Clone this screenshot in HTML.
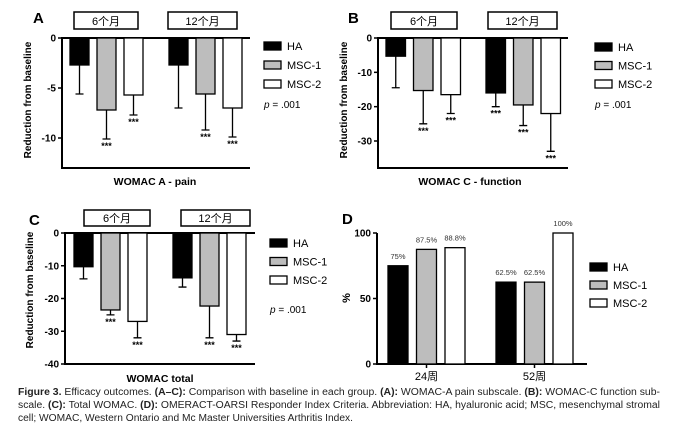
<!DOCTYPE html>
<html><head><meta charset="utf-8">
<style>
html,body{margin:0;padding:0;background:#fff;}
svg{display:block;font-family:"Liberation Sans","Noto Sans CJK SC",sans-serif;}
</style></head>
<body>
<svg id="fig" width="678" height="428" viewBox="0 0 678 428" xmlns="http://www.w3.org/2000/svg">
<rect width="678" height="428" fill="#fff"/>
<g id="root"></g>
<g font-size="10" fill="#222" font-family="'Liberation Sans Narrow','Liberation Sans',sans-serif">
<text x="18" y="395" textLength="642" lengthAdjust="spacingAndGlyphs"><tspan font-weight="bold">Figure 3.</tspan>    Efficacy outcomes. <tspan font-weight="bold">(A–C):</tspan> Comparison with baseline in each group. <tspan font-weight="bold">(A):</tspan> WOMAC-A pain subscale. <tspan font-weight="bold">(B):</tspan> WOMAC-C function sub-</text>
<text x="18" y="408" textLength="642" lengthAdjust="spacingAndGlyphs">scale. <tspan font-weight="bold">(C):</tspan> Total WOMAC. <tspan font-weight="bold">(D):</tspan> OMERACT-OARSI Responder Index Criteria. Abbreviation: HA, hyaluronic acid; MSC, mesenchymal stromal</text>
<text x="18" y="421" textLength="335" lengthAdjust="spacingAndGlyphs">cell; WOMAC, Western Ontario and Mc Master Universities Arthritis Index.</text>
</g>
</svg>
<script>
// Panel A: WOMAC A - pain
const aGroups = ["6个月", "12个月"];
const aMeans = [[-2.7, -7.2, -5.7], [-2.7, -5.6, -7.0]];
const aErrs  = [[-5.6, -10.1, -7.7], [-7.0, -9.2, -9.9]];
const aStars = [[false, true, true], [false, true, true]];
const aTicks = [0, -5, -10];
// Panel B: WOMAC C - function
const bGroups = ["6个月", "12个月"];
const bMeans = [[-5.3, -15.3, -16.5], [-16.0, -19.5, -22.0]];
const bErrs  = [[-14.5, -25.0, -22.0], [-20.0, -25.5, -33.0]];
const bStars = [[false, true, true], [true, true, true]];
const bTicks = [0, -10, -20, -30];
// Panel C: WOMAC total
const cGroups = ["6个月", "12个月"];
const cMeans = [[-10.3, -23.5, -27.0], [-13.7, -22.3, -31.0]];
const cErrs  = [[-14.0, -25.0, -32.0], [-16.5, -32.0, -33.0]];
const cStars = [[false, true, true], [false, true, true]];
const cTicks = [0, -10, -20, -30, -40];
// Panel D: responder %
const dCats = ["24周", "52周"];
const dValues = [[75, 87.5, 88.8], [62.5, 62.5, 100]];
const dLabels = [["75%", "87.5%", "88.8%"], ["62.5%", "62.5%", "100%"]];
const dTicks = [0, 50, 100];
const seriesNames = ["HA", "MSC-1", "MSC-2"];

const NS = "http://www.w3.org/2000/svg";
const root = document.getElementById("root");
const fills = ["#000", "#bdbdbd", "#fff"];
function mk(tag, attrs, parent, text) {
  const e = document.createElementNS(NS, tag);
  for (const k in attrs) e.setAttribute(k, attrs[k]);
  if (text !== undefined) e.textContent = text;
  (parent || root).appendChild(e);
  return e;
}

function panel(cfg) {
  const g = mk("g", {});
  
  
  const y = v => cfg.y0 + (v - cfg.vTop) * (cfg.yBot - cfg.y0) / (cfg.vBot - cfg.vTop);
  // letter
  const L = mk("text", {x: cfg.letter[0], y: cfg.letter[1], "font-size": 15, "font-weight": "bold"}, g, cfg.letterText);
  
  
  // axes
  const ax = mk("path", {d: `M${cfg.ax} ${cfg.yTopAxis} V${cfg.yAxisBottom} H${cfg.axR}`, stroke: "#000", "stroke-width": 2, fill: "none"}, g);
  
  
  if (cfg.zeroLine) {
    const zl = mk("line", {x1: cfg.ax, x2: cfg.axR, y1: y(0), y2: y(0), stroke: "#000", "stroke-width": 2}, g);
    
    
  }
  cfg.ticks.forEach(t => {
    const tk = mk("line", {x1: cfg.ax - 4, x2: cfg.ax, y1: y(t), y2: y(t), stroke: "#000", "stroke-width": 1.5}, g);
    
    
    const tl = mk("text", {x: cfg.ax - 6, y: y(t) + 3.5, "font-size": 10, "font-weight": "bold", "text-anchor": "end"}, g, String(t));
    
    
  });
  // y title
  const yt = mk("text", {x: 0, y: 0, "font-size": cfg.yTitleSize || 10, "font-weight": "bold", "text-anchor": "middle",
    transform: `translate(${cfg.yTitle[0]},${cfg.yTitle[1]}) rotate(-90)`}, g, cfg.yTitleText);
  
  
  // bars
  cfg.means.forEach((grp, gi) => {
    grp.forEach((v, si) => {
      const x0 = cfg.groupX[gi] + si * cfg.step;
      const top = Math.min(y(0), y(v)), h = Math.abs(y(v) - y(0));
      const b = mk("rect", {x: x0, y: top, width: cfg.bw, height: h, fill: fills[si], stroke: "#000", "stroke-width": 1.3}, g);
      
      
      const cx = x0 + cfg.bw / 2;
      if (cfg.errs) {
        const e = cfg.errs[gi][si];
        const eb = mk("path", {d: `M${cx} ${y(v)} V${y(e)} M${cx - 4} ${y(e)} H${cx + 4}`, stroke: "#000", "stroke-width": 1.3, fill: "none"}, g);
        
        
        if (cfg.stars[gi][si]) {
          const st = mk("text", {x: cx, y: y(e) + 10, "font-size": 9, "font-weight": "bold", "text-anchor": "middle"}, g, "***");
          
          
        }
      }
      if (cfg.labels) {
        const vl = mk("text", {x: cx, y: y(v) - 7, "font-size": 7.5, "text-anchor": "middle", fill: "#333"}, g, cfg.labels[gi][si]);
        
        
      }
    });
  });
  // group headers / category labels
  if (cfg.headers) {
    cfg.headers.forEach((h, i) => {
      const hb = cfg.headerBoxes[i];
      const r = mk("rect", {x: hb[0], y: hb[1], width: hb[2], height: hb[3], fill: "#fff", stroke: "#000", "stroke-width": 1.5}, g);
      
      
      const t = mk("text", {x: hb[0] + hb[2] / 2, y: hb[1] + hb[3] - 4, "font-size": 11, "text-anchor": "middle"}, g, h);
      
      
    });
  }
  if (cfg.cats) {
    cfg.cats.forEach((c, i) => {
      const cx = cfg.groupX[i] + cfg.step + cfg.bw / 2;
      const tk = mk("line", {x1: cx, x2: cx, y1: cfg.yAxisBottom, y2: cfg.yAxisBottom + 4, stroke: "#000", "stroke-width": 1.5}, g);
      
      
      const t = mk("text", {x: cx, y: cfg.yAxisBottom + 16, "font-size": 11, "text-anchor": "middle"}, g, c);
      
      
    });
  }
  if (cfg.xTitleText) {
    const xt = mk("text", {x: cfg.xTitle[0], y: cfg.xTitle[1], "font-size": 10.5, "font-weight": "bold", "text-anchor": "middle"}, g, cfg.xTitleText);
    
    
  }
  // legend
  seriesNames.forEach((s, i) => {
    const ly = cfg.legend[1] + i * cfg.legendStep;
    const lb = mk("rect", {x: cfg.legend[0], y: ly - 4, width: 17, height: 8, fill: fills[i], stroke: "#000", "stroke-width": 1.3}, g);
    
    
    const lt = mk("text", {x: cfg.legend[0] + 23, y: ly + 4, "font-size": 11}, g, s);
    
    
  });
  if (cfg.pval) {
    const p = mk("text", {x: cfg.pval[0], y: cfg.pval[1], "font-size": 10}, g);
    
    
    mk("tspan", {"font-style": "italic"}, p, "p");
    mk("tspan", {}, p, " = .001");
  }
}

panel({name: "panel-a", letterText: "A", letter: [33, 23], ax: 62, axR: 250, yTopAxis: 37, yAxisBottom: 168,
  y0: 38, vTop: 0, yBot: 138, vBot: -10, zeroLine: true, ticks: aTicks,
  yTitle: [31, 100], yTitleText: "Reduction from baseline",
  means: aMeans, errs: aErrs, stars: aStars, groupX: [70, 169], step: 27, bw: 19,
  headers: aGroups, headerBoxes: [[74, 12, 64, 17], [168, 12, 69, 17]],
  xTitle: [155, 185], xTitleText: "WOMAC A - pain",
  legend: [264, 46], legendStep: 19, pval: [264, 108]});

panel({name: "panel-b", letterText: "B", letter: [348, 23], ax: 378, axR: 568, yTopAxis: 37, yAxisBottom: 168,
  y0: 38, vTop: 0, yBot: 141, vBot: -30, zeroLine: true, ticks: bTicks,
  yTitle: [347, 100], yTitleText: "Reduction from baseline",
  means: bMeans, errs: bErrs, stars: bStars, groupX: [386, 486], step: 27.5, bw: 19.5,
  headers: bGroups, headerBoxes: [[391, 12, 66, 17], [488, 12, 69, 17]],
  xTitle: [470, 185], xTitleText: "WOMAC C - function",
  legend: [595, 47], legendStep: 18.5, pval: [595, 108]});

panel({name: "panel-c", letterText: "C", letter: [29, 225], ax: 65, axR: 255, yTopAxis: 232, yAxisBottom: 364,
  y0: 233, vTop: 0, yBot: 364, vBot: -40, zeroLine: true, ticks: cTicks,
  yTitle: [33, 290], yTitleText: "Reduction from baseline",
  means: cMeans, errs: cErrs, stars: cStars, groupX: [74, 173], step: 27, bw: 19,
  headers: cGroups, headerBoxes: [[84, 210, 66, 16], [181, 210, 69, 16]],
  xTitle: [160, 382], xTitleText: "WOMAC total",
  legend: [270, 243], legendStep: 18.5, pval: [270, 313]});

panel({name: "panel-d", letterText: "D", letter: [342, 224], ax: 377, axR: 587, yTopAxis: 233, yAxisBottom: 364,
  y0: 364, vTop: 0, yBot: 233, vBot: 100, zeroLine: false, ticks: dTicks,
  yTitle: [350, 298], yTitleText: "%", yTitleSize: 11,
  means: dValues, labels: dLabels, groupX: [388, 496], step: 28.5, bw: 20,
  cats: dCats,
  legend: [590, 267], legendStep: 18, pval: null});
</script>
</body></html>
